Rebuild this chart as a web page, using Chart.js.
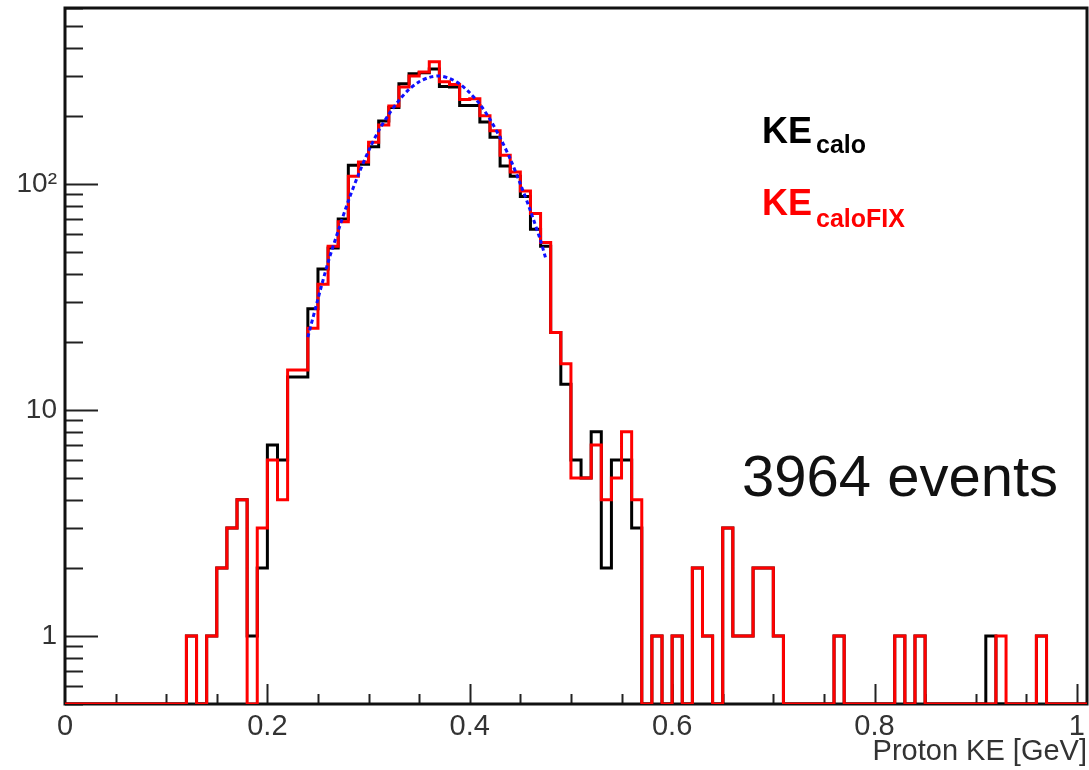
<!DOCTYPE html>
<html lang="en">
<head>
<meta charset="UTF-8">
<title>Proton KE</title>
<script src="https://cdn.jsdelivr.net/npm/chart.js"></script>
<style>
  body { margin: 0; background: #fff; }
  #wrap { width: 1089px; height: 770px; }
</style>
</head>
<body>
<div id="wrap"><canvas id="myChart"></canvas></div>
<script>
// histogram binning (GeV)
const xMin = 0, xMax = 1.01;
const firstBin = 0.12, binWidth = 0.01;

// KE_calo counts, bins from 0.12 to 0.97
const keCalo = [
  1, 0, 1, 2, 3, 4, 1, 2, 7, 6,
  14, 14, 28, 42, 52, 70, 121, 122, 146, 190,
  218, 277, 307, 310, 322, 270, 268, 222, 222, 188,
  161, 120, 108, 88, 63, 53, 22, 13, 6, 5,
  8, 2, 6, 6, 3, 0, 1, 0, 1, 0,
  2, 1, 0, 3, 1, 1, 2, 2, 1, 0,
  0, 0, 0, 0, 1, 0, 0, 0, 0, 0,
  1, 0, 1, 0, 0, 0, 0, 0, 0, 1,
  0, 0, 0, 0, 1
];

// KE_caloFIX counts, same bins
const keCaloFix = [
  1, 0, 1, 2, 3, 4, 0, 3, 6, 4,
  15, 15, 23, 36, 53, 68, 108, 125, 153, 182,
  221, 268, 300, 313, 347, 283, 275, 236, 238, 200,
  172, 134, 113, 93, 74, 55, 22, 16, 5, 5,
  7, 4, 5, 8, 4, 0, 1, 0, 1, 0,
  2, 1, 0, 3, 1, 1, 2, 2, 1, 0,
  0, 0, 0, 0, 1, 0, 0, 0, 0, 0,
  1, 0, 1, 0, 0, 0, 0, 0, 0, 0,
  1, 0, 0, 0, 1
];

// gaussian fit curve (blue dashed)
const fitX = [0.240, 0.250, 0.260, 0.270, 0.280, 0.290, 0.300, 0.310, 0.320, 0.330, 0.340, 0.350,
              0.360, 0.370, 0.380, 0.390, 0.400, 0.410, 0.420, 0.430, 0.440, 0.450, 0.460, 0.470, 0.475];
const fitY = [21, 31, 45, 62, 84, 110, 140, 172, 203, 234, 262, 283,
              296, 300, 293, 277, 253, 225, 193, 160, 129, 100, 76, 56, 47];

const xTicks = [0, 0.2, 0.4, 0.6, 0.8, 1];
const yTicks = [1, 10, 100];
const yMin = 0.5, yMax = 600;

const FONT = "'Liberation Sans', Arial, Helvetica, sans-serif";

// empty bins sit on the frame bottom (log axis cannot show 0)
function histPoints(counts) {
  var pts = [{x: xMin, y: yMin}];
  for (let i = 0; i < counts.length; i++) {
    pts.push({x: +(firstBin + i * binWidth).toFixed(2), y: Math.max(counts[i], yMin)});
  }
  pts.push({x: +(firstBin + counts.length * binWidth).toFixed(2), y: yMin});
  pts.push({x: xMax, y: yMin});
  return pts;
}

// ROOT style frame with inward ticks
const rootFrame = {
  id: 'rootFrame',
  beforeDatasetsDraw(chart) {
    const ctx = chart.ctx;
    const a = chart.chartArea;
    const xs = chart.scales.x, ys = chart.scales.y;
    ctx.save();
    ctx.strokeStyle = '#222';
    ctx.lineWidth = 2;
    // x ticks every 0.05, long every 0.2
    for (let k = 1; k <= 20; k++) {
      const v = k * 0.05;
      const px = Math.round(xs.getPixelForValue(v)) + 0.5;
      const len = (k % 4 === 0) ? 20 : 10;
      ctx.beginPath();
      ctx.moveTo(px, a.bottom);
      ctx.lineTo(px, a.bottom - len);
      ctx.stroke();
    }
    // y log ticks
    for (let d = 0.1; d <= 1000; d *= 10) {
      for (let m = 1; m <= 9; m++) {
        const v = +(m * d).toPrecision(3);
        if (v < yMin || v > yMax) continue;
        const py = Math.round(ys.getPixelForValue(v)) + 0.5;
        const len = (m === 1) ? 33 : 18;
        ctx.beginPath();
        ctx.moveTo(a.left, py);
        ctx.lineTo(a.left + len, py);
        ctx.stroke();
      }
    }
    // frame
    ctx.lineWidth = 3;
    ctx.strokeStyle = '#111';
    ctx.strokeRect(a.left, a.top, a.right - a.left, a.bottom - a.top);
    ctx.restore();
  }
};

// legend text and event count
const annotations = {
  id: 'annotations',
  afterDraw(chart) {
    const ctx = chart.ctx;
    ctx.save();
    ctx.textAlign = 'left';
    ctx.textBaseline = 'alphabetic';
    ctx.fillStyle = '#000';
    ctx.font = 'bold 36px ' + FONT;
    ctx.fillText('KE', 762, 143);
    ctx.font = 'bold 25px ' + FONT;
    ctx.fillText('calo', 816, 153);
    ctx.fillStyle = '#ff0000';
    ctx.font = 'bold 36px ' + FONT;
    ctx.fillText('KE', 762, 215);
    ctx.font = 'bold 25px ' + FONT;
    ctx.fillText('caloFIX', 816, 227);
    ctx.fillStyle = '#111';
    ctx.font = '58px ' + FONT;
    ctx.fillText('3964 events', 742, 496);
    ctx.restore();
  }
};

new Chart(document.getElementById('myChart'), {
  type: 'line',
  data: {
    datasets: [
      {
        label: 'fit',
        data: fitX.map((x, i) => ({x: x, y: fitY[i]})),
        borderColor: '#1010ff',
        borderWidth: 3,
        borderDash: [4, 3],
        pointRadius: 0,
        tension: 0.3,
        fill: false,
        order: 0
      },
      {
        label: 'KE_caloFIX',
        data: histPoints(keCaloFix),
        borderColor: '#ff0000',
        borderWidth: 3,
        stepped: 'before',
        pointRadius: 0,
        fill: false,
        order: 1
      },
      {
        label: 'KE_calo',
        data: histPoints(keCalo),
        borderColor: '#000000',
        borderWidth: 3,
        stepped: 'before',
        pointRadius: 0,
        fill: false,
        order: 2
      }
    ]
  },
  options: {
    responsive: true,
    maintainAspectRatio: false,
    animation: false,
    layout: { padding: { left: 0, right: 2, top: 8, bottom: 0 } },
    plugins: { legend: { display: false }, tooltip: { enabled: false } },
    scales: {
      x: {
        type: 'linear',
        min: xMin,
        max: xMax,
        grid: { display: false, drawTicks: false },
        border: { display: false },
        afterBuildTicks: (s) => { s.ticks = xTicks.map(v => ({value: v})); },
        afterFit: (s) => { s.height = 66; s.paddingLeft = 0; s.paddingRight = 0; },
        ticks: {
          padding: 6,
          maxRotation: 0,
          color: '#333',
          font: { family: FONT, size: 29 },
          callback: (v) => String(+v.toFixed(1))
        },
        title: {
          display: true,
          text: 'Proton KE [GeV]',
          align: 'end',
          color: '#333',
          font: { family: FONT, size: 29 },
          padding: { top: 0, bottom: 1 }
        }
      },
      y: {
        type: 'logarithmic',
        min: yMin,
        max: yMax,
        grid: { display: false, drawTicks: false },
        border: { display: false },
        afterBuildTicks: (s) => { s.ticks = yTicks.map(v => ({value: v})); },
        afterFit: (s) => { s.width = 65; s.paddingTop = 0; s.paddingBottom = 0; },
        ticks: {
          padding: 8,
          color: '#333',
          font: { family: FONT, size: 28 },
          callback: (v) => (v === 100 ? '10\u00B2' : String(v))
        }
      }
    }
  },
  plugins: [rootFrame, annotations]
});
</script>
</body>
</html>
